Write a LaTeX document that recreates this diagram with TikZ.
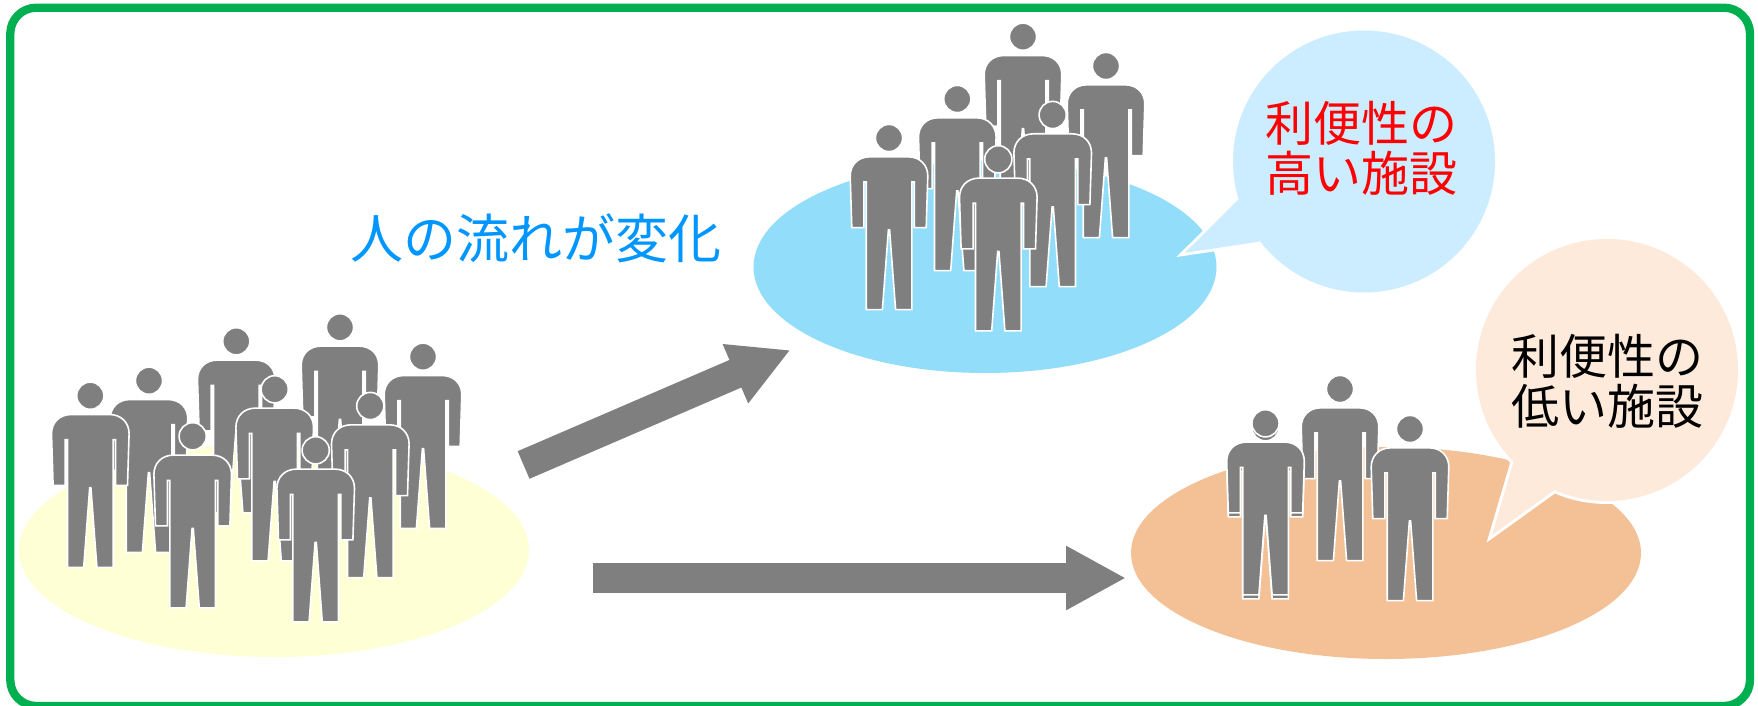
\documentclass[tikz,border=0pt]{standalone}
\usepackage{fontspec}
\usetikzlibrary{shapes.geometric,arrows.meta}
\setmainfont{Noto Sans CJK JP}
\definecolor{frameg}{HTML}{00B050}
\definecolor{pgray}{HTML}{7F7F7F}
\definecolor{ellY}{HTML}{FFFFD5}
\definecolor{ellB}{HTML}{92DDF9}
\definecolor{ellO}{HTML}{F4C196}
\definecolor{bubB}{HTML}{CCECFF}
\definecolor{bubO}{HTML}{FDEADA}
\definecolor{flowblue}{HTML}{0096FF}
\tikzset{
  x=0.5pt,y=-0.5pt,
  person/.pic={
    \filldraw[fill=pgray,draw=white,line width=0.8pt,line join=miter]
      (0,0) circle[radius=13.6];
    \filldraw[fill=pgray,draw=white,line width=0.8pt,line join=miter]
      (-19,18.8) -- (19,18.8) .. controls (31,18.8) and (38.8,27) .. (38.8,38)
      -- (37.2,89.6) -- (25.2,89.6) -- (25.2,44) -- (22.8,44) -- (22.8,171.6) -- (6.6,171.6)
      -- (0.6,92) -- (-0.6,92) -- (-6.6,171.6) -- (-22.8,171.6) -- (-22.8,44) -- (-25.2,44)
      -- (-25.2,89.6) -- (-37.2,89.6) -- (-38.8,38) .. controls (-38.8,27) and (-31,18.8) .. (-19,18.8) -- cycle;
  },
  blob/.style={ellipse,minimum width=#1,inner sep=0pt,outer sep=0pt},
  bigarrow/.style={draw=pgray,line width=15pt,-{Triangle[length=30pt,width=30pt]}},
  bubtext/.style={align=center,font=\fontsize{24pt}{25pt}\selectfont},
}
\begin{document}
\begin{tikzpicture}
\useasboundingbox (0,0) rectangle (1758,706);
\fill[white] (0,0) rectangle (1758,706);
\draw[frameg,line width=4.15pt,rounded corners=13pt] (10.3,7.7) rectangle (1750,706);

% ellipses
\node[blob=255pt,minimum height=107pt,fill=ellY] (eY) at (274,550) {};
\node[blob=231.5pt,minimum height=106pt,fill=ellB] (eB) at (985,267) {};
\node[blob=255pt,minimum height=106pt,fill=ellO] (eO) at (1386,553) {};

% arrows
\coordinate (a1s) at (523.6,465);
\coordinate (a1e) at (790.5,350);
\coordinate (a2s) at (593,578);
\coordinate (a2e) at (1126,578);
\draw[bigarrow] (a1s) -- (a1e);
\draw[bigarrow] (a2s) -- (a2e);

% flow label
\node[text=flowblue,font=\fontsize{26.5pt}{28pt}\selectfont,inner sep=0pt] (flow) at (536,238) {人の流れが変化};

% upper group
\pic (u1) at (1023,36.7) {person};
\pic (u2) at (1106,66) {person};
\pic (u3) at (957.3,99) {person};
\pic (u4) at (1052.7,115) {person};
\pic (u5) at (889,138) {person};
\pic (u6) at (998.3,159.3) {person};

% left group
\pic (l1) at (236.3,341.3) {person};
\pic (l2) at (340,327.3) {person};
\pic (l3) at (423,356.7) {person};
\pic (l4) at (149,380.7) {person};
\pic (l5) at (90.3,395.7) {person};
\pic (l6) at (274.7,389.3) {person};
\pic (l7) at (370.3,406) {person};
\pic (l8) at (192.7,436.3) {person};
\pic (l9) at (315.7,450.3) {person};

% lower group
\pic (r1) at (1340,389) {person};
\pic (r2) at (1265.5,427.3) {person};
\pic (r3) at (1265.5,423.3) {person};
\pic (r4) at (1410,429) {person};

% blue bubble
\draw[white,line width=3pt] (1364,161.5) circle[radius=131];
\draw[white,line width=3pt,line join=miter] (1238,200) -- (1185,252.7) -- (1259,241.7);
\fill[bubB] (1364,161.5) circle[radius=131];
\fill[bubB] (1238,200) -- (1185,252.7) -- (1259,241.7) -- (1300,200) -- cycle;
\node[bubtext,text=red,inner sep=0pt] (tb) at (1361,148) {利便性の\\[0pt]高い施設};

% orange bubble
\draw[white,line width=3pt] (1607,370) circle[radius=131];
\draw[white,line width=3pt,line join=miter] (1513.5,462) -- (1492,535) -- (1553.6,490.7);
\fill[bubO] (1607,370) circle[radius=131];
\fill[bubO] (1513.5,462) -- (1492,535) -- (1553.6,490.7) -- (1570,440) -- cycle;
\node[bubtext,text=black,inner sep=0pt] (to) at (1607,381) {利便性の\\[0pt]低い施設};
\end{tikzpicture}
\end{document}
